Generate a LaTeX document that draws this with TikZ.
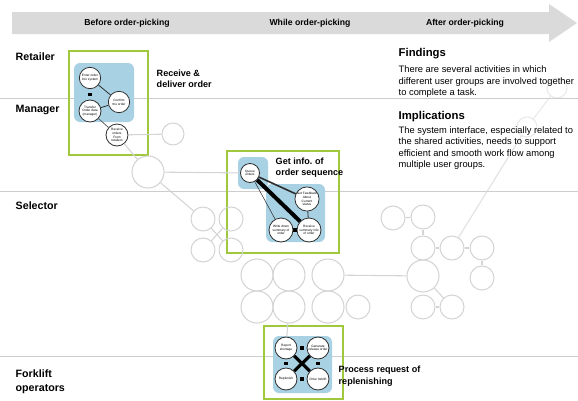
\documentclass[tikz,border=0pt]{standalone}
\usepackage{fontspec}
\setmainfont{Liberation Sans}
\usetikzlibrary{arrows.meta}

\tikzset{
    actv/.style={circle,draw={rgb,255:red,45;green,45;blue,45},fill=white,line width=0.6,inner sep=0,align=center,font=\fontsize{2.4}{2.8}\selectfont},
    ghost/.style={circle,draw={rgb,255:red,212;green,212;blue,212},line width=0.8,inner sep=0},
    ghostline/.style={draw={rgb,255:red,212;green,212;blue,212},line width=0.8},
    actline/.style={draw={rgb,255:red,45;green,45;blue,45},line width=0.6},
    sq/.style={rectangle,fill=black,inner sep=0,minimum size=2.6pt},
    grnbox/.style={draw={rgb,255:red,160;green,200;blue,60},line width=1.5},
    bluearea/.style={fill={rgb,255:red,168;green,210;blue,228},rounded corners=4.5},
    lane/.style={draw={rgb,255:red,205;green,205;blue,205},line width=0.6},
    lanelabel/.style={anchor=west,align=left,font=\fontsize{8}{10.5}\selectfont\bfseries},
    tasklabel/.style={anchor=west,align=left,font=\fontsize{6.8}{8.6}\selectfont\bfseries},
}

\begin{document}
\begin{tikzpicture}[x=0.75pt,y=0.75pt,yscale=-1,xscale=1]
\useasboundingbox (0,0) rectangle (578,400);

%Shape: Lane lines
\draw [lane] (0,98) -- (578,98) ;
\draw [lane] (0,191) -- (578,191) ;
\draw [lane] (0,356) -- (578,356) ;

%Shape: Banner arrow
\fill [color={rgb, 255:red, 218; green, 218; blue, 218 }] (12,12) -- (549,12) -- (549,4) -- (577,23) -- (549,42) -- (549,34) -- (12,34) -- cycle ;
\node [font=\fontsize{6.5}{8}\selectfont\bfseries] (phase1) at (127,23) {Before order-picking};
\node [font=\fontsize{6.5}{8}\selectfont\bfseries] (phase2) at (310,23) {While order-picking};
\node [font=\fontsize{6.5}{8}\selectfont\bfseries] (phase3) at (465,23) {After order-picking};

%Text: Lanes
\node [lanelabel] (retailer) at (11,57) {Retailer};
\node [lanelabel] (manager) at (11,110) {Manager};
\node [lanelabel] (selector) at (11,206) {Selector};
\node [lanelabel] (forklift) at (11,382) {Forklift\\operators};

%Shape: Green boxes
\draw [grnbox] (69,51) rectangle (148,155) ;
\draw [grnbox] (227,151) rectangle (339,253) ;
\draw [grnbox] (264,326) rectangle (343,399) ;

%Shape: Blue areas
\fill [bluearea] (74,63) rectangle (134,122) ;
\fill [bluearea] (238,157) rectangle (268,189) ;
\fill [bluearea] (266,184) rectangle (325,242) ;
\fill [bluearea] (273,336) rectangle (332,393) ;

%Shape: Faded circles
\node [ghost,minimum size=16.5pt] (g1) at (173,134) {};
\node [ghost,minimum size=24pt] (g2) at (148,172) {};
\node [ghost,minimum size=18pt] (g3) at (203,219) {};
\node [ghost,minimum size=18pt] (g4) at (231,219) {};
\node [ghost,minimum size=18pt] (g5) at (203,250) {};
\node [ghost,minimum size=18pt] (g6) at (231,250) {};
\node [ghost,minimum size=24pt] (g7) at (257,275) {};
\node [ghost,minimum size=24pt] (g8) at (289,275) {};
\node [ghost,minimum size=24pt] (g9) at (328,275) {};
\node [ghost,minimum size=24pt] (g10) at (257,307) {};
\node [ghost,minimum size=24pt] (g11) at (289,307) {};
\node [ghost,minimum size=24pt] (g12) at (328,307) {};
\node [ghost,minimum size=18pt] (g13) at (358,307) {};
\node [ghost,minimum size=24pt] (g14) at (423,276) {};
\node [ghost,minimum size=18pt] (g15) at (423,307) {};
\node [ghost,minimum size=18pt] (g16) at (452,307) {};
\node [ghost,minimum size=18pt] (g17) at (393,218) {};
\node [ghost,minimum size=18pt] (g18) at (423,217) {};
\node [ghost,minimum size=18pt] (g19) at (423,248) {};
\node [ghost,minimum size=18pt] (g20) at (452,248) {};
\node [ghost,minimum size=18pt] (g21) at (482,248) {};
\node [ghost,minimum size=18pt] (g22) at (482,278) {};
\node [ghost,minimum size=15pt,draw opacity=0.5] (g23) at (527,127) {};
\node [ghost,minimum size=15pt,draw opacity=0.5] (g24) at (557,88) {};

%Shape: Circles of Receive & deliver order
\node [actv,minimum size=16pt] (a1) at (90,78) {Enter order\\into system};
\node [actv,minimum size=16.5pt] (a2) at (90,111) {Transfer\\Order data\\(manager)};
\node [actv,minimum size=16pt] (a3) at (119,102) {Confirm\\the order};
\node [actv,minimum size=16.5pt] (a4) at (117,135) {Receive\\orders\\From\\retailers};

%Shape: Circles of Get info. of order sequence
\node [actv,minimum size=14.25pt] (q) at (250,173) {Queue\\orders};
\node [actv,minimum size=16.5pt] (f) at (307,199) {Get Feedback\\About\\Current\\status};
\node [actv,minimum size=18pt] (w) at (281,230) {Write down\\summary of\\order};
\node [actv,minimum size=18pt] (v) at (309,230) {Receive\\summary info\\of order};

%Shape: Circles of Process request of replenishing
\node [actv,minimum size=16.5pt] (r1) at (286,348) {Report\\shortage};
\node [actv,minimum size=16.5pt] (r2) at (318,348) {Generate\\release order};
\node [actv,minimum size=16.5pt] (r3) at (286,379) {Replenish};
\node [actv,minimum size=16.5pt] (r4) at (318,379) {Drive forklift};

%Straight Lines: faded flow
\draw [ghostline] (a4) -- (g1) ;
\draw [ghostline] (a4) -- (g2) ;
\draw [ghostline] (g2) -- (q) ;
\draw [ghostline] (g2) -- (g3) ;
\draw [ghostline] (g3) -- (g6) ;
\draw [ghostline] (g4) -- (g5) ;
\draw [ghostline] (g11) -- (r1) ;
\draw [ghostline] (g9) -- (g14) ;
\draw [ghostline] (g14) -- (g16) ;
\draw [ghostline] (g15) -- (g16) ;
\draw [ghostline] (g17) -- (g18) ;
\draw [ghostline] (g18) -- (g19) ;
\draw [ghostline] (g19) -- (g20) ;
\draw [ghostline] (g20) -- (g21) ;
\draw [ghostline] (g21) -- (g22) ;
\draw [ghostline,draw opacity=0.7] (g20) -- (g23) ;
\draw [ghostline,draw opacity=0.5] (g23) -- (g24) ;

%Straight Lines: active links
\draw [actline] (a1) -- (a3) ;
\draw [actline] (a2) -- (a3) ;
\draw [actline,draw={rgb,255:red,100;green,100;blue,100}] (a2) -- (a4) ;
\path (a1) -- node [sq] (s1) {} (a2) ;

\draw [actline,line width=1.2] (q) -- (f) ;
\draw [actline,line width=3,draw=black] (q) -- (v) ;
\draw [actline,line width=0.4] (q) -- (w) ;
\draw [actline] (f) -- (v) ;
\path (w) -- node [sq] (s2) {} (v) ;

\draw [actline,line width=2.4,draw=black] (r1) -- (r4) ;
\draw [actline,line width=2.4,draw=black] (r2) -- (r3) ;
\path (r1) -- node [sq] (s3) {} (r2) ;
\path (r1) -- node [sq] (s4) {} (r3) ;
\path (r2) -- node [sq] (s5) {} (r4) ;
\path (r3) -- node [sq] (s6) {} (r4) ;

%Text: Task labels
\node [tasklabel] (recv) at (152,79) {Receive \&\\deliver order};
\node [tasklabel] (getinfo) at (271,167.5) {Get info.\ of\\order sequence};
\node [tasklabel] (process) at (334,376) {Process request of\\replenishing};

%Text: Findings and implications
\node [anchor=west,font=\fontsize{8.5}{10}\selectfont\bfseries] (findhead) at (394,54) {Findings};
\node [anchor=west,align=left,font=\fontsize{7}{8.6}\selectfont] (findtext) at (394,82) {There are several activities in which\\different user groups are involved together\\to complete a task.};
\node [anchor=west,font=\fontsize{8.5}{10}\selectfont\bfseries] (imphead) at (394,117) {Implications};
\node [anchor=west,align=left,font=\fontsize{7}{8.6}\selectfont] (imptext) at (394,148) {The system interface, especially related to\\the shared activities, needs to support\\efficient and smooth work flow among\\multiple user groups.};

\end{tikzpicture}
\end{document}
